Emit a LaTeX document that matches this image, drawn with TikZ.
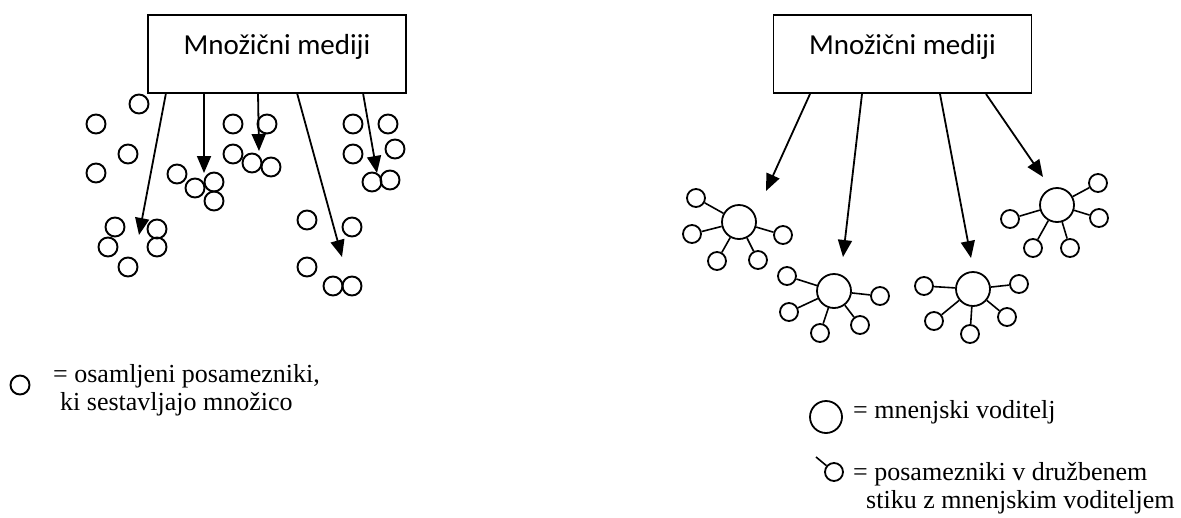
\documentclass[tikz,border=0pt]{standalone}
\usepackage{fontspec}
\setmainfont{Liberation Serif}
\newfontfamily\calibrifont{Carlito}
\usetikzlibrary{arrows.meta}
\tikzset{
  media/.style={draw, line width=1.7pt, minimum width=258pt, inner xsep=0pt, inner ysep=0pt,
    text height=39pt, text depth=39pt, font=\calibrifont\fontsize{29}{34}\selectfont},
  ind/.style={circle, draw, line width=1.9pt, minimum size=19pt, inner sep=0pt},
  leader/.style={circle, draw, line width=1.8pt, minimum size=34pt, inner sep=0pt},
  follower/.style={circle, draw, line width=1.8pt, minimum size=18pt, inner sep=0pt},
  spoke/.style={line width=1.6pt},
  medarrow/.style={line width=1.8pt, -{Triangle[length=17pt,width=14pt]}},
  legtext/.style={anchor=base west, inner sep=0pt, font=\fontsize{26}{30}\selectfont},
}
\begin{document}
\begin{tikzpicture}[x=1pt,y=-1pt]
\useasboundingbox (0,0) rectangle (1181,517);

% ---------- left panel ----------
\node[media] (boxL) at (277,54) {Množični mediji};

\foreach \x/\y [count=\i] in {139/104, 96/124, 128/154, 96/173, 177/174, 195/188, 214/182, 214/201,
  233/124, 267/124, 233/154, 252/163, 271/167,
  353/124, 388/124, 353/154, 395/149, 372/182, 390/180,
  115/227, 157/229, 108/247, 157/247, 128/267,
  307/220, 352/227, 307/267, 333/286, 352/286}
  \node[ind] (p\i) at (\x,\y) {};

\coordinate (a1s) at (166,93);  \coordinate (a1e) at (139,235);
\coordinate (a2s) at (204,93);  \coordinate (a2e) at (204,173);
\coordinate (a3s) at (258,93);  \coordinate (a3e) at (259,151);
\coordinate (a4s) at (297,93);  \coordinate (a4e) at (342,257);
\coordinate (a5s) at (363,93);  \coordinate (a5e) at (377,173);
\foreach \i in {1,...,5} \draw[medarrow] (a\i s) -- (a\i e);

% legend left
\node[ind] (legind) at (20,385) {};
\node[legtext] (legL1) at (53,382) {= osamljeni posamezniki,};
\node[legtext] (legL2) at (60,410) {ki sestavljajo množico};

% ---------- right panel ----------
\node[media] (boxR) at (902.5,54) {Množični mediji};

\coordinate (b1s) at (810,94);  \coordinate (b1e) at (766,191);
\coordinate (b2s) at (862,94);  \coordinate (b2e) at (843,257);
\coordinate (b3s) at (940,94);  \coordinate (b3e) at (971,258);
\coordinate (b4s) at (986,94);  \coordinate (b4e) at (1043,177);
\foreach \i in {1,...,4} \draw[medarrow] (b\i s) -- (b\i e);

\node[leader] (c1) at (739,222) {};
\foreach \x/\y [count=\i] in {696/198, 692/234, 717/261, 758/260, 783/235}
  {\node[follower] (c1s\i) at (\x,\y) {}; \draw[spoke] (c1) -- (c1s\i);}

\node[leader] (c2) at (834,291) {};
\foreach \x/\y [count=\i] in {787/276, 789/312, 820/333, 860/325, 880/296}
  {\node[follower] (c2s\i) at (\x,\y) {}; \draw[spoke] (c2) -- (c2s\i);}

\node[leader] (c3) at (973,289) {};
\foreach \x/\y [count=\i] in {924/286, 1019/284, 934/321, 1007/317, 970/334}
  {\node[follower] (c3s\i) at (\x,\y) {}; \draw[spoke] (c3) -- (c3s\i);}

\node[leader] (c4) at (1057,205) {};
\foreach \x/\y [count=\i] in {1098/183, 1099/218, 1010/219, 1033/248, 1070/248}
  {\node[follower] (c4s\i) at (\x,\y) {}; \draw[spoke] (c4) -- (c4s\i);}

% legend right
\node[leader, minimum size=32pt] (legleader) at (826,417) {};
\node[legtext] (legR1) at (853,418) {= mnenjski voditelj};
\node[follower] (legfol) at (834,472) {};
\coordinate (legtail) at (816,457);
\draw[spoke] (legtail) -- (legfol);
\node[legtext] (legR2) at (853,480) {= posamezniki v družbenem};
\node[legtext] (legR3) at (866,508) {stiku z mnenjskim voditeljem};
\end{tikzpicture}
\end{document}
